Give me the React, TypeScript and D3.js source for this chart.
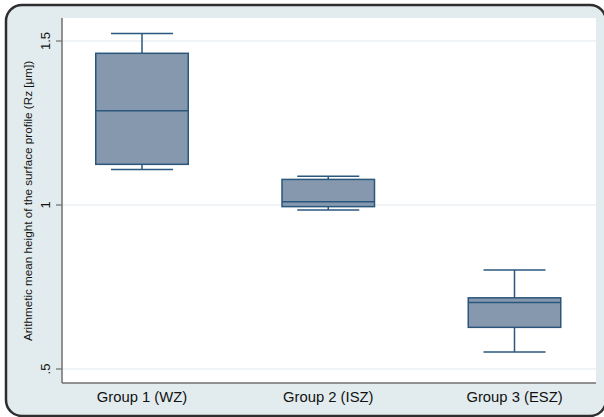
import React from "react";
import * as d3 from "d3";

const categories = ["Group 1 (WZ)", "Group 2 (ISZ)", "Group 3 (ESZ)"];
const whiskerLow = [1.108, 0.985, 0.552];
const q1 = [1.124, 0.995, 0.627];
const median = [1.2875, 1.01, 0.703];
const q3 = [1.4625, 1.078, 0.717];
const whiskerHigh = [1.523, 1.0875, 0.802];
const yTicks = [0.5, 1, 1.5];
const yTickLabels = [".5", "1", "1.5"];
const yTitle = "Arithmetic mean height of the surface profile (Rz [\u03bcm])";

const W = 604;
const H = 417;
const plot = { left: 62, right: 596, top: 18, bottom: 383 };

export default function App() {
  const y = d3.scaleLinear().domain([0.5, 1.5]).range([369, 41]);
  const x = d3.scalePoint<string>().domain(categories).range([142, 514.5]).padding(0);
  const boxW = 92.5;
  const capW = 62;
  const fill = "#8598ad";
  const stroke = "#2b577c";
  const font = "Liberation Sans, Arial, sans-serif";

  return (
    <svg width={W} height={H} style={{ position: "absolute", left: 0, top: 0, display: "block" }}>
      <rect x={0} y={0} width={W} height={H} fill="#ffffff" />
      <rect x={6} y={5} width={W - 4} height={H - 6} rx={16} ry={16} fill="#e2ecee" stroke="#2e2e2e" strokeWidth={2.5} />
      <rect x={plot.left} y={plot.top} width={plot.right - plot.left} height={plot.bottom - plot.top} fill="#ffffff" />
      {yTicks.map((t) => (
        <line key={"g" + t} x1={plot.left} x2={plot.right} y1={y(t)} y2={y(t)} stroke="#e1eaed" strokeWidth={1.2} />
      ))}
      {categories.map((c, i) => {
        const cx = x(c) as number;
        return (
          <g key={c}>
            <line x1={cx} x2={cx} y1={y(whiskerHigh[i])} y2={y(q3[i])} stroke={stroke} strokeWidth={1.5} />
            <line x1={cx} x2={cx} y1={y(q1[i])} y2={y(whiskerLow[i])} stroke={stroke} strokeWidth={1.5} />
            <line x1={cx - capW / 2} x2={cx + capW / 2} y1={y(whiskerHigh[i])} y2={y(whiskerHigh[i])} stroke={stroke} strokeWidth={1.5} />
            <line x1={cx - capW / 2} x2={cx + capW / 2} y1={y(whiskerLow[i])} y2={y(whiskerLow[i])} stroke={stroke} strokeWidth={1.5} />
            <rect x={cx - boxW / 2} y={y(q3[i])} width={boxW} height={y(q1[i]) - y(q3[i])} fill={fill} stroke={stroke} strokeWidth={1.5} />
            <line x1={cx - boxW / 2} x2={cx + boxW / 2} y1={y(median[i])} y2={y(median[i])} stroke={stroke} strokeWidth={1.5} />
            <text x={cx} y={398} textAnchor="middle" dominantBaseline="middle" fontFamily={font} fontSize={14.8} fill="#111">{c}</text>
          </g>
        );
      })}
      <line x1={plot.left} x2={plot.left} y1={plot.top} y2={plot.bottom} stroke="#6f6f6f" strokeWidth={1.5} />
      <line x1={plot.left} x2={plot.right} y1={plot.bottom} y2={plot.bottom} stroke="#6f6f6f" strokeWidth={1.5} />
      {yTicks.map((t, i) => (
        <g key={"t" + t}>
          <line x1={56} x2={plot.left} y1={y(t)} y2={y(t)} stroke="#6f6f6f" strokeWidth={1.2} />
          <text transform={`translate(50,${y(t)}) rotate(-90)`} textAnchor="middle" fontFamily={font} fontSize={13} fill="#111">{yTickLabels[i]}</text>
        </g>
      ))}
      <text transform={`translate(32,${(plot.top + plot.bottom) / 2 + 0.5}) rotate(-90)`} textAnchor="middle" fontFamily={font} fontSize={11.7} fill="#111">{yTitle}</text>
    </svg>
  );
}
